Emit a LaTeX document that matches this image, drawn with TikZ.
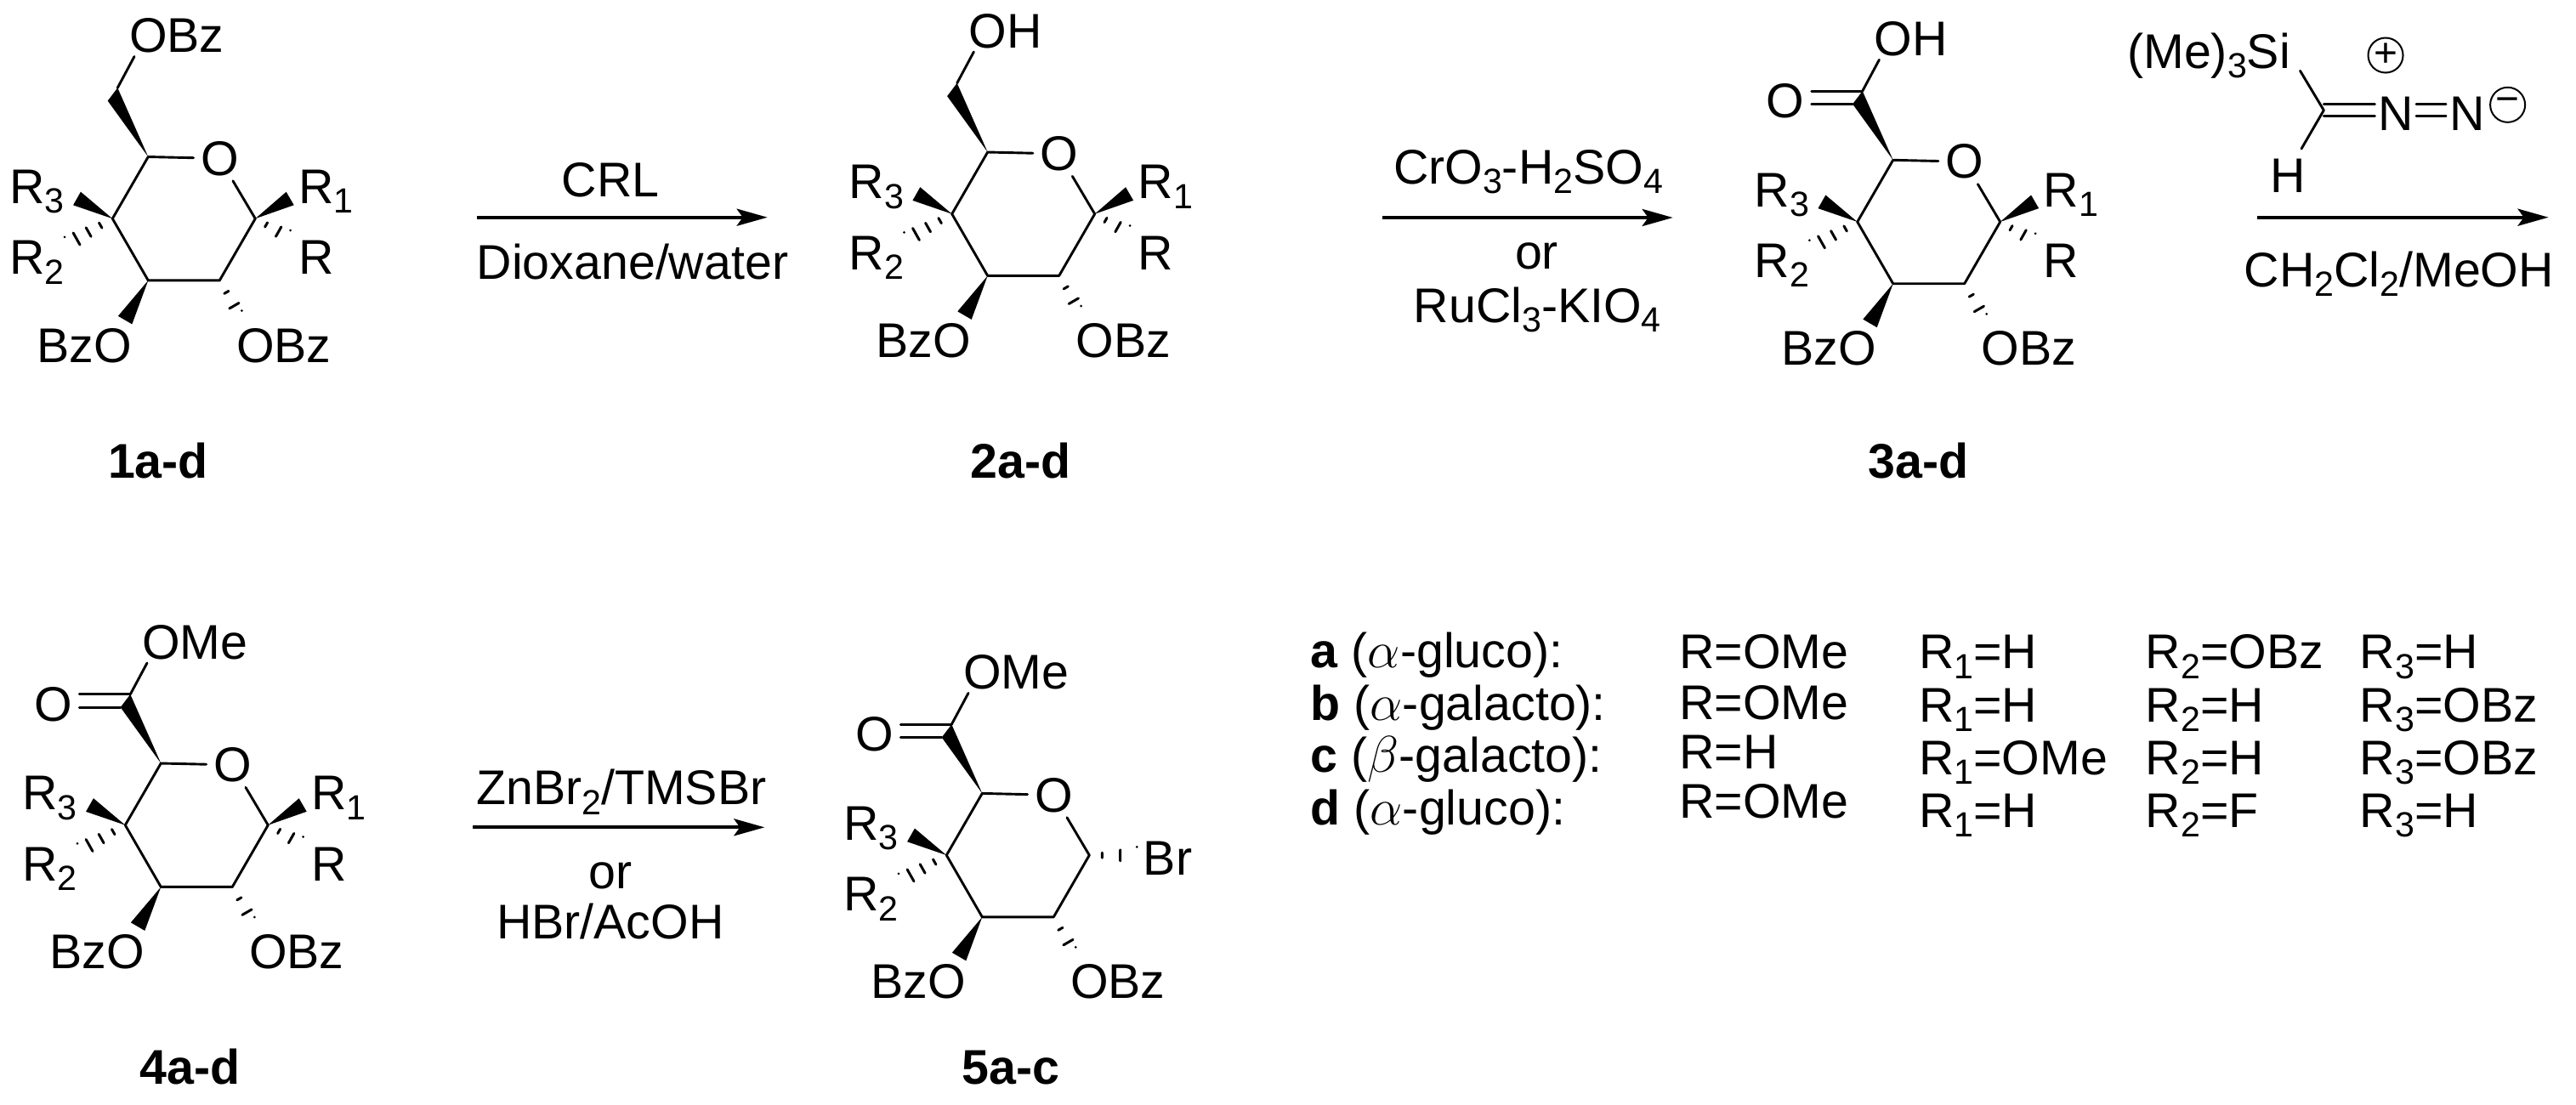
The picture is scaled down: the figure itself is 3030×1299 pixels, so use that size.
\documentclass[tikz,border=0pt]{standalone}
\usepackage{fontspec}
\setmainfont{Liberation Sans}
\usepackage{tikz}
\usetikzlibrary{arrows.meta,calc}
\tikzstyle{bond}=[line width=.029cm,line cap=round,line join=round]
\tikzstyle{hash}=[line width=.03cm,line cap=round]
\tikzstyle{arrowline}=[line width=.04cm,-{Stealth[length=.36cm,width=.2cm,inset=.07cm]}]
\tikzstyle{txt}=[inner sep=0pt,font=\fontsize{16.3}{19}\selectfont]
\tikzstyle{txtw}=[txt,anchor=base west]
\tikzstyle{txte}=[txt,anchor=base east]
\tikzstyle{txtc}=[txt,anchor=base]
\tikzstyle{cmpd}=[txt,anchor=base,font=\fontsize{16.3}{19}\selectfont\bfseries]
\tikzstyle{ringO}=[txt,circle,minimum size=.58cm]
\tikzstyle{charge}=[circle,draw,line width=.02cm,inner sep=0pt,minimum size=.41cm,font=\fontsize{13.6}{14}\selectfont]
\newcommand{\sbs}[1]{\raisebox{-.115cm}{\fontsize{11.7}{12}\selectfont #1}}
\newcommand{\wedgebond}[3]{\fill (#1) -- ($(#2)!#3!90:(#1)$) -- ($(#2)!#3!-90:(#1)$) -- cycle;}
\newcommand{\hashbond}[3]{\foreach \f/\w in {#3}{\draw[hash] ($(#1)!\f!(#2)!\w cm!90:(#2)$) -- ($(#1)!\f!(#2)!\w cm!-90:(#2)$);}}
% ring with the groups on C2, C3 and C4
\newcommand{\sugarring}{
	\coordinate (c5) at (0,0);
	\node [ringO] (o) at (84,1.9) {O};
	\coordinate (c1) at (126,72.7);
	\coordinate (c2) at (84,145.4);
	\coordinate (c3) at (0,145.4);
	\coordinate (c4) at (-42,72.7);
	\draw [bond] (o) -- (c1) -- (c2) -- (c3) -- (c4) -- (c5) -- (o);
	\coordinate (w3) at (-83.8,49);
	\coordinate (h2) at (-98.3,104.4);
	\coordinate (wo) at (-27.2,192.1);
	\coordinate (ho) at (110,190.5);
	\wedgebond{c4}{w3}{.09cm}
	\hashbond{c4}{h2}{.25/.035,.5/.06,.75/.08,1/.1}
	\wedgebond{c3}{wo}{.095cm}
	\hashbond{c2}{ho}{.31/.03,.66/.065,1/.095}
	\node [txtw] (rthree) at (-163.5,54.7) {R\sbs{3}};
	\node [txtw] (rtwo) at (-163.5,138.1) {R\sbs{2}};
	\node [txte] (bzo) at (-18.9,241.5) {BzO};
	\node [txtw] (obz) at (103,241.5) {OBz};
}
\newcommand{\anomer}{
	\coordinate (w1) at (166.9,49);
	\coordinate (h1) at (167.4,96);
	\wedgebond{c1}{w1}{.09cm}
	\hashbond{c1}{h1}{.31/.03,.66/.065,1/.095}
	\node [txtw] (rone) at (176.2,54.7) {R\sbs{1}};
	\node [txtw] (r) at (176.2,138.1) {R};
}
% C6 wedge, and the C=O when there is one
\newcommand{\sidechain}[1]{
	\coordinate (c6) at (-36,-81.2);
	\coordinate (c6b) at (-47.6,-65.9);
	\coordinate (c7) at (-16.3,-118);
	\fill (c5) -- (c6) -- (c6b) -- cycle;
	\draw [bond] (c6) -- (c7);
	\node [txtw] (top) at (-23,-123) {#1};
}
\newcommand{\carbonyl}{
	\node [ringO] (co) at (-126.7,-69.5) {O};
	\draw [bond] (c6) -- (c6 -| co.east);
	\draw [bond] (c6b) -- (c6b -| co.east);
}
\begin{document}
\begin{tikzpicture}[x=.01cm,y=-.01cm]
\useasboundingbox (0,0) rectangle (3030,1299);

\begin{scope}[shift={(174.3,184.5)},name prefix=ma]
	\sugarring
	\anomer
	\sidechain{OBz}
\end{scope}
\begin{scope}[shift={(1161.7,179)},name prefix=mb]
	\sugarring
	\anomer
	\sidechain{OH}
\end{scope}
\begin{scope}[shift={(2226.7,188.3)},name prefix=mc]
	\sugarring
	\anomer
	\sidechain{OH}
	\carbonyl
\end{scope}
\begin{scope}[shift={(189.3,898)},name prefix=md]
	\sugarring
	\anomer
	\sidechain{OMe}
	\carbonyl
\end{scope}
\begin{scope}[shift={(1155.3,933.4)},name prefix=me]
	\sugarring
	\sidechain{OMe}
	\carbonyl
	\coordinate (hbr) at (182,73);
	\hashbond{c1}{hbr}{.27/.03,.65/.065,1/.1}
	\node [txtw] (br) at (188.8,96) {Br};
\end{scope}

\node [cmpd] (one) at (186,562.6) {1a-d};
\node [cmpd] (two) at (1200.8,562.6) {2a-d};
\node [cmpd] (three) at (2256.7,562.6) {3a-d};
\node [cmpd] (four) at (223.8,1275.8) {4a-d};
\node [cmpd] (five) at (1189.2,1275.8) {5a-c};

% arrows
\coordinate (aone) at (561,255.7);
\coordinate (bone) at (902.7,255.7);
\draw [arrowline] (aone) -- (bone);
\node [txtc] (crl) at (718,231.7) {CRL};
\node [txtc] (diox) at (744,328.3) {Dioxane/water};

\coordinate (atwo) at (1626,256);
\coordinate (btwo) at (1967.7,256);
\draw [arrowline] (atwo) -- (btwo);
\node [txtc] (cro) at (1797.5,216) {CrO\sbs{3}-H\sbs{2}SO\sbs{4}};
\node [txtc] (ortwo) at (1807.5,316.7) {or};
\node [txtc] (ruo) at (1808.3,379.3) {RuCl\sbs{3}-KIO\sbs{4}};

\coordinate (athree) at (2654.8,255.7);
\coordinate (bthree) at (2997.6,255.7);
\draw [arrowline] (athree) -- (bthree);
\node [txtw] (dcm) at (2639,337.3) {CH\sbs{2}Cl\sbs{2}/MeOH};

\coordinate (afour) at (556,973.3);
\coordinate (bfour) at (899.3,973.3);
\draw [arrowline] (afour) -- (bfour);
\node [txtc] (zn) at (730.8,946.7) {ZnBr\sbs{2}/TMSBr};
\node [txtc] (orfour) at (718.3,1045) {or};
\node [txtc] (hbr) at (717.8,1104.3) {HBr/AcOH};

% diazomethane
\node [txtw] (si) at (2501.5,80) {(Me)\sbs{3}Si};
\node [txtc] (h) at (2691,226.7) {H};
\node [txtw] (na) at (2797,153.3) {N};
\node [txtw] (nb) at (2881,153.3) {N};
\node [charge] (plus) at (2806,65) {+};
\node [charge] (minus) at (2949.6,123.3) {−};
\coordinate (cd) at (2733.3,129.7);
\coordinate (cs) at (2705.5,83.3);
\coordinate (ch) at (2707,175);
\coordinate (ne) at (2793.4,129.7);
\coordinate (nf) at (2842,129.7);
\coordinate (ng) at (2877,129.7);
\draw [bond] (cs) -- (cd) -- (ch);
\foreach \s in {.07,-.07}{
	\draw [bond] ([yshift=\s cm]cd) -- ([yshift=\s cm]ne);
	\draw [bond] ([yshift=\s cm]nf) -- ([yshift=\s cm]ng);
}

% table of the substituents
\node [txtw] (la) at (1541,785.7) {\textbf{a} ($\alpha$-gluco):};
\node [txtw] (lb) at (1541,847.3) {\textbf{b} ($\alpha$-galacto):};
\node [txtw] (lc) at (1541,908) {\textbf{c} ($\beta$-galacto):};
\node [txtw] (ld) at (1541,970.7) {\textbf{d} ($\alpha$-gluco):};
\node [txtw] (ra) at (1974.5,786.7) {R=OMe};
\node [txtw] (rb) at (1974.5,846) {R=OMe};
\node [txtw] (rc) at (1974.5,904) {R=H};
\node [txtw] (rd) at (1974.5,962.7) {R=OMe};
\node [txtw] (sa) at (2256.5,786.7) {R\sbs{1}=H};
\node [txtw] (sb) at (2256.5,849) {R\sbs{1}=H};
\node [txtw] (sc) at (2256.5,911) {R\sbs{1}=OMe};
\node [txtw] (sd) at (2256.5,973.3) {R\sbs{1}=H};
\node [txtw] (ta) at (2523,786.7) {R\sbs{2}=OBz};
\node [txtw] (tb) at (2523,849) {R\sbs{2}=H};
\node [txtw] (tc) at (2523,911) {R\sbs{2}=H};
\node [txtw] (td) at (2523,973.3) {R\sbs{2}=F};
\node [txtw] (ua) at (2775,786.7) {R\sbs{3}=H};
\node [txtw] (ub) at (2775,849) {R\sbs{3}=OBz};
\node [txtw] (uc) at (2775,911) {R\sbs{3}=OBz};
\node [txtw] (ud) at (2775,973.3) {R\sbs{3}=H};
\end{tikzpicture}
\end{document}
